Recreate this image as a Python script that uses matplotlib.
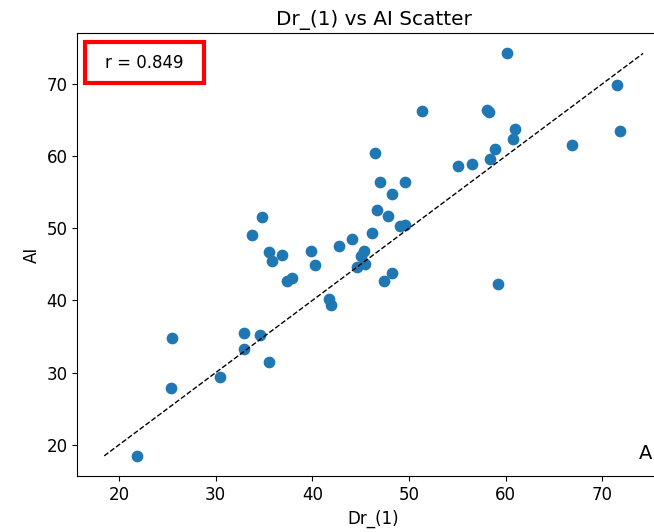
import numpy as np
import matplotlib
matplotlib.use("Agg")
import matplotlib.pyplot as plt
from matplotlib.patches import Rectangle

# values
dr_1 = [21.83, 25.52, 25.38, 30.41, 32.93, 32.93, 34.58, 35.54, 33.72, 34.82,
        35.55, 35.79, 36.86, 37.34, 37.86, 39.89, 40.27, 41.72, 41.89, 42.72,
        44.06, 44.58, 45.06, 45.34, 45.44, 46.16, 46.44, 46.72, 46.96, 47.37,
        47.79, 48.20, 48.27, 49.03, 49.58, 49.61, 51.33, 55.02, 56.47, 58.02,
        58.26, 58.33, 58.85, 59.19, 60.09, 60.74, 60.98, 66.88, 71.47, 71.81]
ai = [18.48, 34.86, 27.89, 29.38, 35.47, 33.34, 35.28, 31.50, 49.09, 51.55,
      46.69, 45.48, 46.27, 42.71, 43.09, 46.83, 44.89, 40.18, 39.30, 47.56,
      48.53, 44.56, 46.09, 46.83, 45.07, 49.32, 60.40, 52.55, 56.39, 42.71,
      51.72, 43.78, 54.67, 50.33, 50.47, 56.43, 66.20, 58.64, 58.88, 66.40,
      66.12, 59.61, 60.96, 42.26, 74.20, 62.33, 63.67, 61.55, 69.80, 63.49]
r_text = "r = 0.849"

x = np.array(dr_1)
y = np.array(ai)

plt.rcParams['font.size'] = 12

fig = plt.figure(figsize=(6.54, 5.32), dpi=100)
# axes runs past the right edge, as in the (cropped) reference
ax = fig.add_axes([0.1182, 0.1053, 0.9063, 0.8321])

ax.scatter(x, y, s=55, color="#1f77b4")

# identity line over the full data range
lo = min(x.min(), y.min())
hi = max(x.max(), y.max())
ax.plot([lo, hi], [lo, hi], "k--", linewidth=1)

ax.set_xticks([20, 30, 40, 50, 60, 70])
ax.set_yticks([20, 30, 40, 50, 60, 70])
ax.tick_params(labelsize=12)
ax.set_xlabel("Dr_(1)", fontsize=12)
ax.set_ylabel("AI", fontsize=12)
ax.set_title("Dr_(1) vs AI Scatter", fontsize=14.4)

# red framed correlation box
fig.patches.append(Rectangle((0.130, 0.8434), 0.182, 0.0782, transform=fig.transFigure,
                             facecolor="white", edgecolor="red", linewidth=3,
                             zorder=5))
fig.text(0.221, 0.8825, r_text, ha="center", va="center", fontsize=12, zorder=6)

ax.text(0.948, 0.038, "A", transform=ax.transAxes, ha="left", va="baseline",
        fontsize=14)

fig.savefig("out.png", dpi=100)
